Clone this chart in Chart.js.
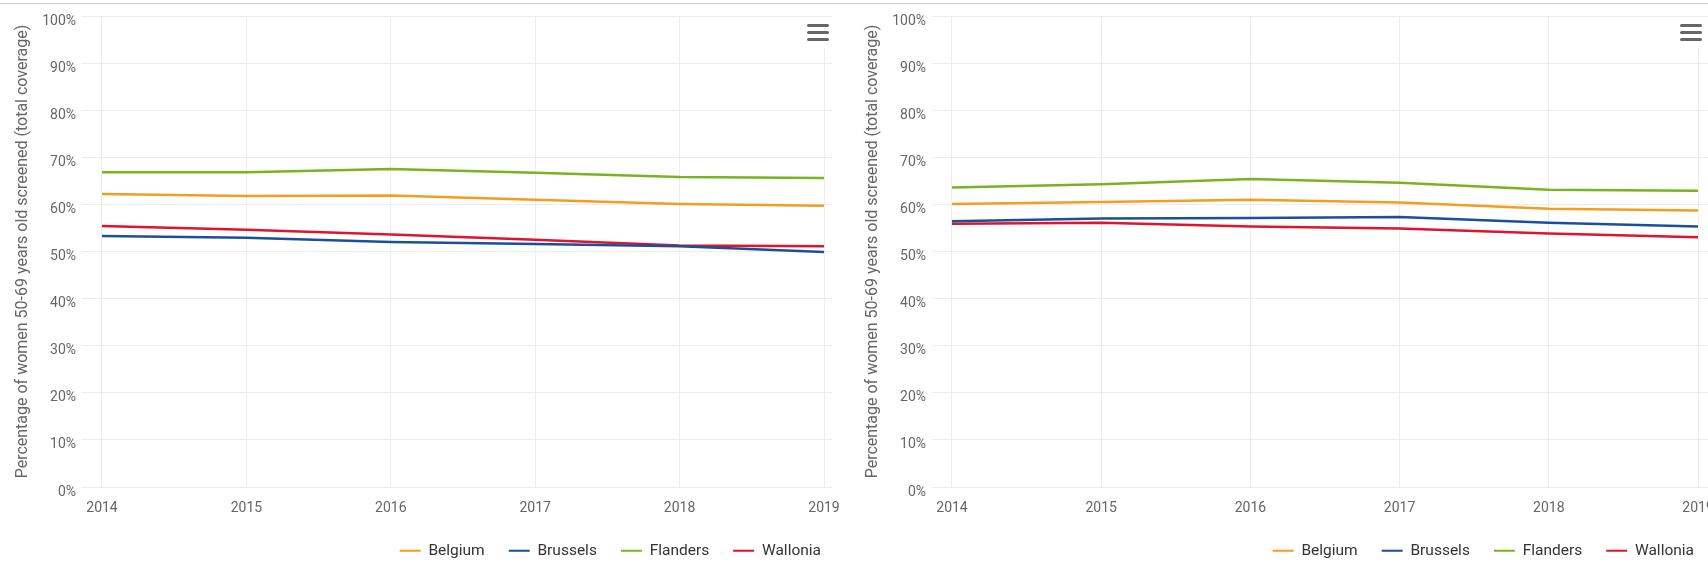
<!DOCTYPE html>
<html>
<head>
<meta charset="utf-8">
<title>Screening coverage</title>
<script src="https://cdn.jsdelivr.net/npm/chart.js@4/dist/chart.umd.min.js"></script>
<style>
  html, body { margin: 0; padding: 0; width: 1708px; height: 579px; overflow: hidden; background: #fff; }
  .top-rule { position: absolute; left: 0; top: 3px; width: 100%; height: 1px; background: #c8c8c8; }
  canvas { position: absolute; top: 0; }
  .menu-btn { position: absolute; top: 17px; width: 36px; height: 31px; background: #fff; }
  .menu-btn span { position: absolute; left: 7px; width: 22px; height: 3px; border-radius: 2px; background: #666; }
</style>
</head>
<body>
<div class="top-rule"></div>
<canvas id="chartLeft" width="845" height="579" style="left:0"></canvas>
<canvas id="chartRight" width="868" height="579" style="left:850px"></canvas>
<div class="menu-btn" style="left:800px"><span style="top:7px"></span><span style="top:14px"></span><span style="top:21px"></span></div>
<div class="menu-btn" style="left:1673px"><span style="top:7px"></span><span style="top:14px"></span><span style="top:21px"></span></div>
<script>
const years = [2014, 2015, 2016, 2017, 2018, 2019];
const regions = ['Belgium', 'Brussels', 'Flanders', 'Wallonia'];
const regionColors = ['#f59d1e', '#1b4f9c', '#78b41f', '#e1142d'];
const yTicks = [0, 10, 20, 30, 40, 50, 60, 70, 80, 90, 100];
const yTitle = 'Percentage of women 50-69 years old screened (total coverage)';

// left panel
const belgiumLeft = [62.2, 61.8, 61.9, 61.0, 60.1, 59.7];
const brusselsLeft = [53.3, 52.9, 52.0, 51.6, 51.1, 49.9];
const flandersLeft = [66.8, 66.8, 67.5, 66.7, 65.8, 65.6];
const walloniaLeft = [55.4, 54.6, 53.6, 52.5, 51.3, 51.1];

// right panel
const belgiumRight = [60.1, 60.5, 61.0, 60.4, 59.1, 58.7];
const brusselsRight = [56.4, 57.0, 57.1, 57.3, 56.1, 55.3];
const flandersRight = [63.6, 64.3, 65.4, 64.6, 63.1, 62.9];
const walloniaRight = [55.9, 56.1, 55.3, 54.9, 53.8, 53.0];

Chart.defaults.font.family = 'Roboto, "Noto Sans", sans-serif';

// moves the legend sideways after layout (legend ignores the chart's right padding)
const legendNudge = {
    id: 'legendNudge',
    afterLayout(chart, args, opts) {
        if (opts.dx) {
            chart.legend.left += opts.dx;
            chart.legend.right += opts.dx;
        }
    }
};

const gridColor = '#ededed';
const tickColor = '#666666';

const createChart = (canvasId, series, xMin, xMax, padRight, legendDx) => {
    const ctx = document.getElementById(canvasId).getContext('2d');

    const datasets = regions.map((name, i) => ({
        label: name,
        data: years.map((x, j) => ({ x: x, y: series[i][j] })),
        borderColor: regionColors[i],
        backgroundColor: regionColors[i],
        borderWidth: 2.5,
        pointRadius: 0,
        tension: 0,
        fill: false
    }));

    return new Chart(ctx, {
        type: 'line',
        data: { datasets: datasets },
        plugins: [legendNudge],
        options: {
            responsive: false,
            animation: false,
            layout: { padding: { top: 16, right: padRight, bottom: 10.5, left: 0 } },
            plugins: {
                tooltip: { enabled: false },
                legendNudge: { dx: legendDx },
                legend: {
                    position: 'bottom',
                    align: 'end',
                    labels: {
                        boxWidth: 21,
                        boxHeight: 2,
                        padding: 24,
                        color: '#333333',
                        font: { size: 15.5 },
                        generateLabels: (chart) => Chart.defaults.plugins.legend.labels.generateLabels(chart)
                            .map(item => ({ ...item, fillStyle: item.strokeStyle, lineWidth: 0 }))
                    }
                }
            },
            scales: {
                x: {
                    type: 'linear',
                    min: xMin,
                    max: xMax,
                    afterBuildTicks: (scale) => {
                        scale.ticks = years.map(v => ({ value: v }));
                    },
                    afterFit: (scale) => {
                        scale.paddingLeft = 0;
                        scale.paddingRight = 0;
                        scale.height = 32;
                    },
                    ticks: {
                        padding: 13,
                        color: tickColor,
                        font: { size: 14 },
                        maxRotation: 0,
                        callback: (v) => String(v)
                    },
                    grid: { color: gridColor, drawTicks: false },
                    border: { display: false }
                },
                y: {
                    min: 0,
                    max: 100,
                    afterBuildTicks: (scale) => {
                        scale.ticks = yTicks.map(v => ({ value: v }));
                    },
                    afterFit: (scale) => {
                        scale.width = 82;
                    },
                    ticks: {
                        padding: 6,
                        labelOffset: 5,
                        color: tickColor,
                        font: { size: 14 },
                        callback: (v) => v + '%'
                    },
                    grid: { color: gridColor, drawTicks: false },
                    border: { display: false },
                    title: {
                        display: true,
                        text: yTitle,
                        color: tickColor,
                        font: { size: 16 },
                        padding: { top: 13, bottom: 0 }
                    }
                }
            }
        }
    });
};

createChart('chartLeft',
    [belgiumLeft, brusselsLeft, flandersLeft, walloniaLeft],
    2013.8615, 2019.0554, 13, 13);

createChart('chartRight',
    [belgiumRight, brusselsRight, flandersRight, walloniaRight],
    2013.866, 2019.134, 0, 0);
</script>
</body>
</html>
